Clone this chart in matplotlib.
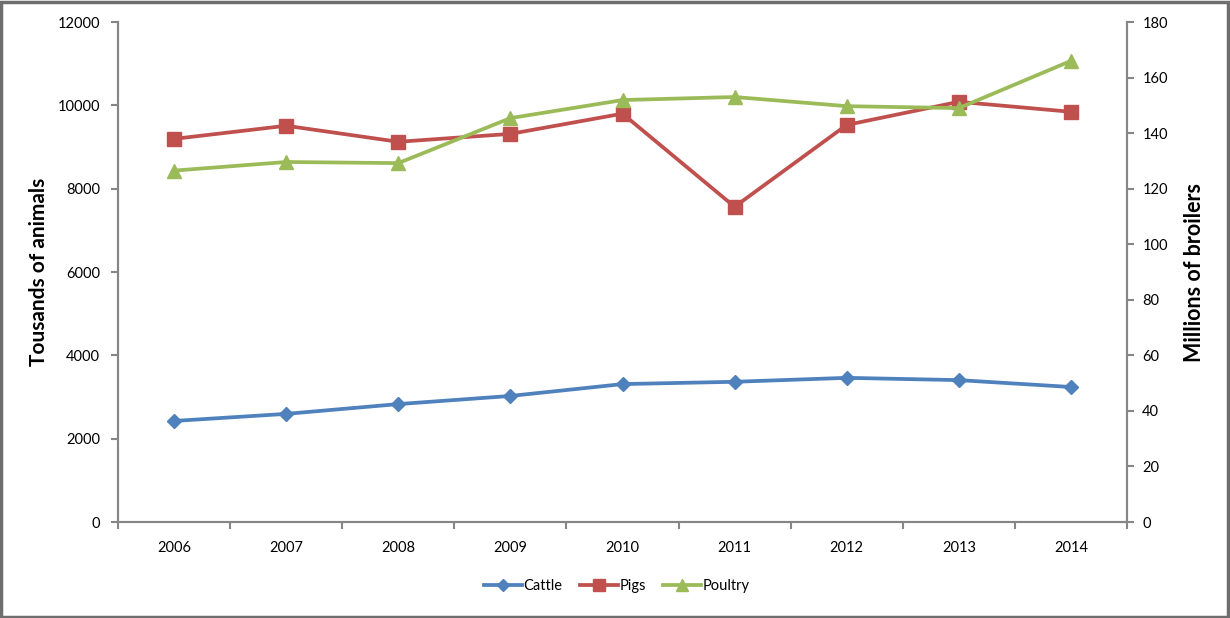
import matplotlib.pyplot as plt
from matplotlib.patches import Rectangle

years = ['2006', '2007', '2008', '2009', '2010', '2011', '2012', '2013', '2014']
cattle = [2425, 2595, 2830, 3025, 3310, 3365, 3460, 3405, 3240]
pigs = [9195, 9510, 9125, 9315, 9800, 7565, 9530, 10085, 9845]
poultry = [126.5, 129.6, 129.2, 145.4, 151.9, 153.0, 149.7, 149.0, 166.0]

blue = '#4F81BD'
red = '#C0504D'
green = '#9BBB59'
grey = '#868686'

plt.rcParams['font.family'] = ['Lato', 'DejaVu Sans']
plt.rcParams['font.size'] = 10.5

fig = plt.figure(figsize=(12.3, 6.18), dpi=100)
ax = fig.add_axes([118 / 1230, 1 - 522 / 618, (1127 - 118) / 1230, 500 / 618])
ax2 = ax.twinx()

x = list(range(len(years)))
l1, = ax.plot(x, cattle, color=blue, lw=2.7, marker='D', ms=7.5, label='Cattle')
l2, = ax.plot(x, pigs, color=red, lw=2.7, marker='s', ms=10, label='Pigs')
l3, = ax2.plot(x, poultry, color=green, lw=2.7, marker='^', ms=10, label='Poultry')

ax.set_xlim(-0.5, len(years) - 0.5)
ax.set_ylim(0, 12000)
ax2.set_ylim(0, 180)
ax.set_yticks(range(0, 12001, 2000))
ax2.set_yticks(range(0, 181, 20))

# category labels centred, tick marks between categories
ax.set_xticks(x)
ax.set_xticklabels(years)
ax.set_xticks([i - 0.5 for i in range(len(years) + 1)], minor=True)
ax.tick_params(axis='x', which='major', length=0, pad=14)
ax.tick_params(axis='x', which='minor', length=5, width=1.5, color=grey)
ax.tick_params(axis='y', length=5, width=1.5, color=grey, pad=8)
ax2.tick_params(axis='y', length=5, width=1.5, color=grey, pad=6)

for a in (ax, ax2):
    a.spines['top'].set_visible(False)
    for s in ('left', 'right', 'bottom'):
        a.spines[s].set_color(grey)
        a.spines[s].set_linewidth(1.5)

ax.set_ylabel('Tousands of animals', fontsize=15, fontweight='bold', labelpad=6)
ax2.set_ylabel('Millions of broilers', fontsize=15.5, fontweight='bold', labelpad=12,
               rotation=90)

fig.legend(handles=[l1, l2, l3], loc='center', bbox_to_anchor=(617 / 1230, 1 - 586 / 618),
           ncol=3, frameon=False, handlelength=2.6, columnspacing=1.2, handletextpad=0.1,
           fontsize=10.5, markerscale=0.85)

fig.patches.append(Rectangle((0.001, 0.002), 0.997, 0.995, transform=fig.transFigure,
                             fill=False, edgecolor='#6e6e6e', lw=2.5))

fig.savefig('out.png', dpi=100)
